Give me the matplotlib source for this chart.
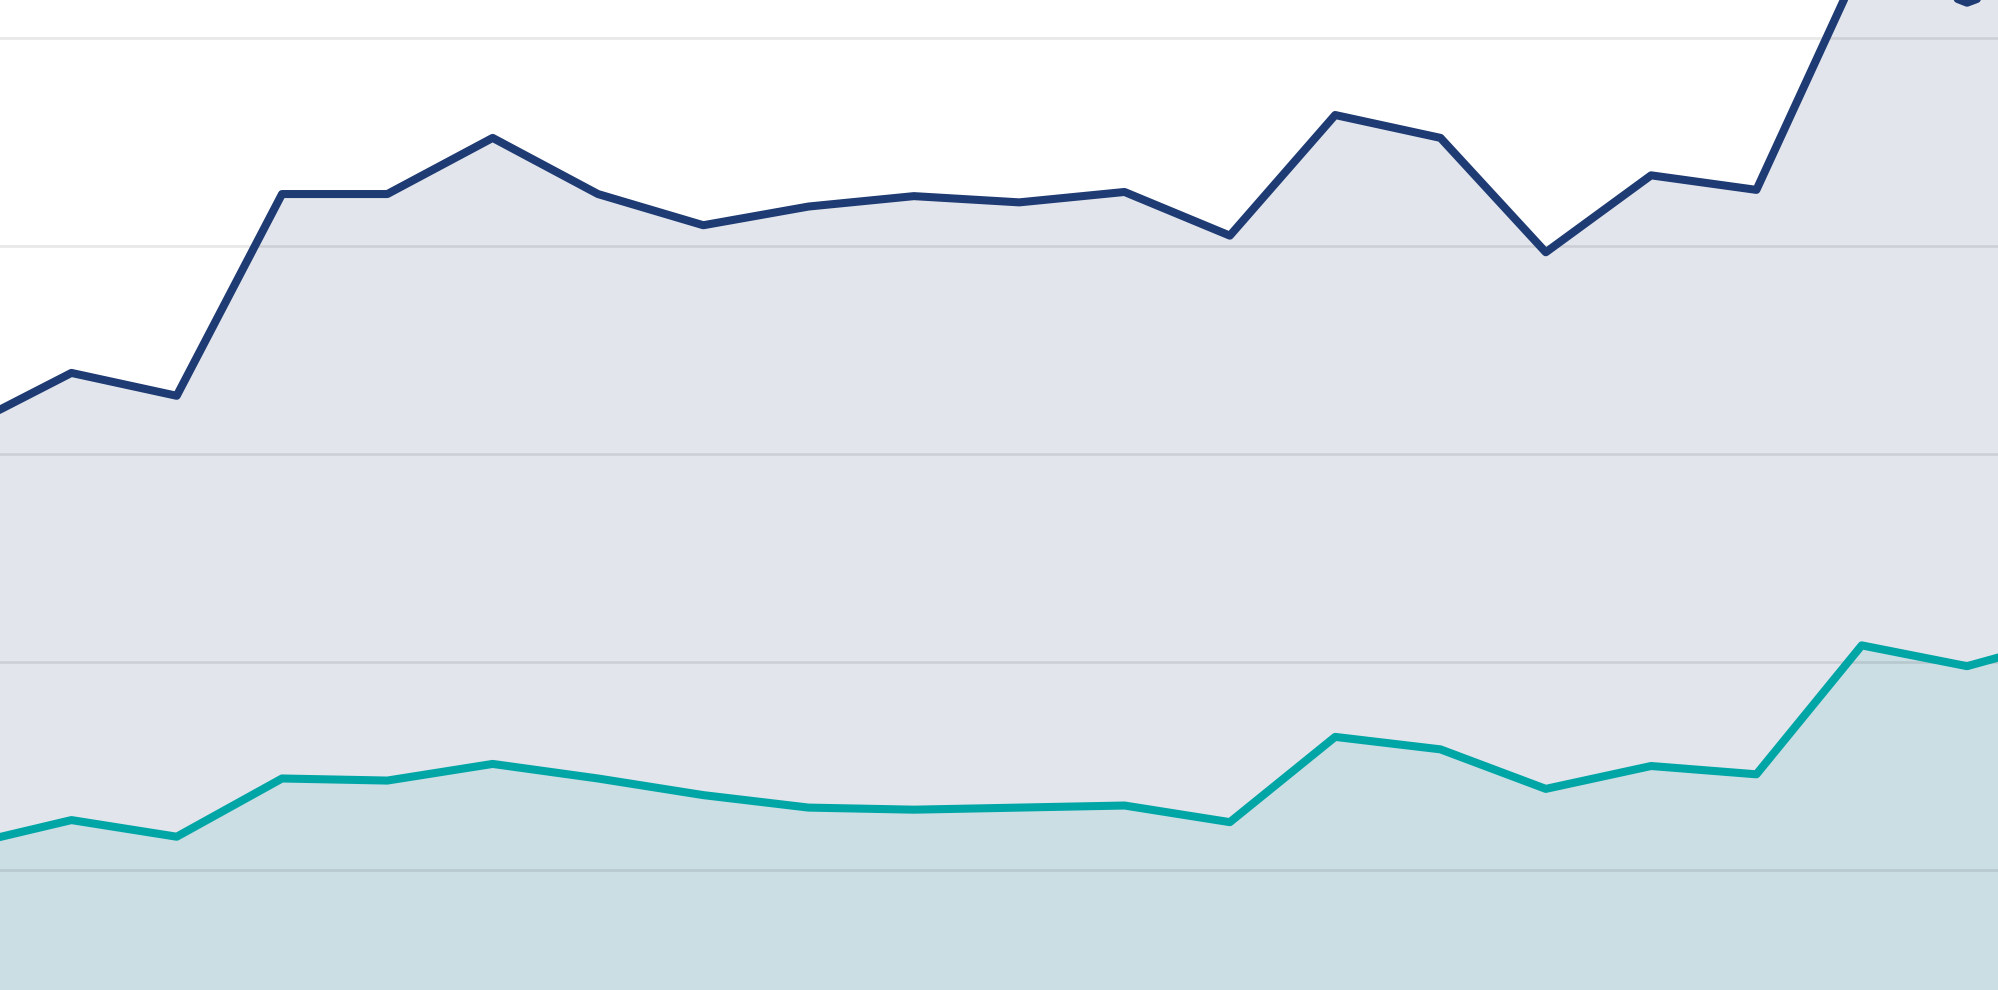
import matplotlib
matplotlib.use("Agg")
import matplotlib.pyplot as plt

# x positions (periods) and series values
periods = list(range(21))
series_total = [31.3, 33.9, 32.8, 42.5, 42.5, 45.2, 42.5, 41.0, 41.9, 42.4, 42.1,
                42.6, 40.5, 46.3, 45.2, 39.7, 43.4, 42.7, 53.7, 51.7, 53.6]
series_part = [11.2, 12.4, 11.6, 14.4, 14.3, 15.1, 14.4, 13.6, 13.0, 12.9, 13.0,
               13.1, 12.3, 16.4, 15.8, 13.9, 15.0, 14.6, 20.8, 19.8, 21.2]
grid_values = [10, 20, 30, 40, 50]

BLUE = "#1f3b73"
TEAL = "#00a6a6"

fig = plt.figure(figsize=(19.98, 9.9), dpi=100)
ax = fig.add_axes([0, 0, 1, 1])

ax.fill_between(periods, series_total, 0, color=BLUE, alpha=0.13, linewidth=0, zorder=1)
ax.fill_between(periods, series_part, 0, color=TEAL, alpha=0.10, linewidth=0, zorder=2)

for g in grid_values:
    ax.axhline(g, color="black", alpha=0.095, linewidth=1.9, zorder=3)

ax.plot(periods, series_total, color=BLUE, linewidth=5.8, solid_joinstyle="round",
        solid_capstyle="round", zorder=4)
ax.plot(periods, series_part, color=TEAL, linewidth=5.8, solid_joinstyle="round",
        solid_capstyle="round", zorder=5)

ax.set_xlim(0.322, 19.294)
ax.set_ylim(4.23, 51.83)
ax.set_xticks([])
ax.set_yticks([])
for s in ax.spines.values():
    s.set_visible(False)
ax.set_facecolor("white")

fig.savefig("out.png", dpi=100, facecolor="white")
